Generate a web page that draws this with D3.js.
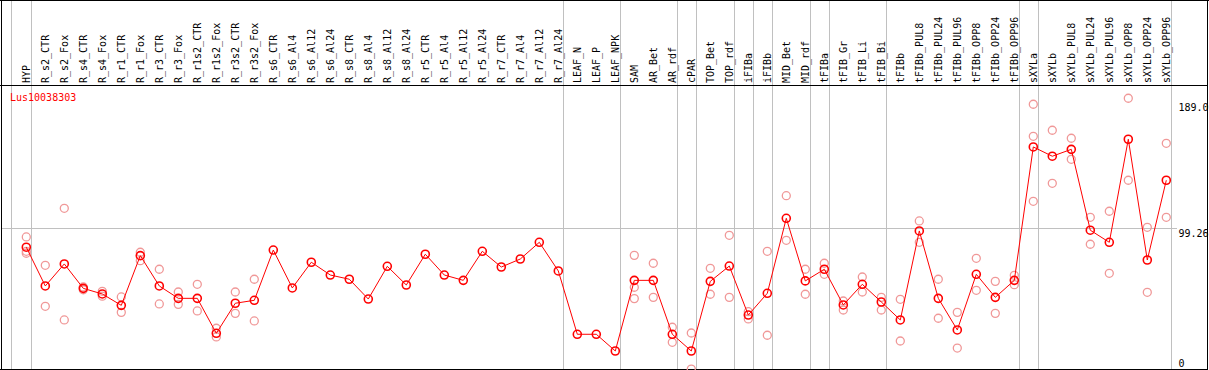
<!DOCTYPE html>
<html>
<head>
<meta charset="utf-8">
<script src="https://cdn.jsdelivr.net/npm/d3@7"></script>
<style>
  body { margin: 0; background: #fff; }
  svg { display: block; }
  text { font-family: "DejaVu Sans Mono", monospace; font-size: 10px; }
</style>
</head>
<body>
<div id="the_chart"></div>
<script>
var geneName = "Lus10038303";

var categories = ["HYP", "R_s2_CTR", "R_s2_Fox", "R_s4_CTR", "R_s4_Fox", "R_r1_CTR", "R_r1_Fox",
  "R_r3_CTR", "R_r3_Fox", "R_r1s2_CTR", "R_r1s2_Fox", "R_r3s2_CTR", "R_r3s2_Fox", "R_s6_CTR",
  "R_s6_Al4", "R_s6_Al12", "R_s6_Al24", "R_s8_CTR", "R_s8_Al4", "R_s8_Al12", "R_s8_Al24",
  "R_r5_CTR", "R_r5_Al4", "R_r5_Al12", "R_r5_Al24", "R_r7_CTR", "R_r7_Al4", "R_r7_Al12", "R_r7_Al24",
  "LEAF_N", "LEAF_P", "LEAF_NPK", "SAM", "AR_Bet", "AR_rdf", "cPAR", "TOP_Bet", "TOP_rdf",
  "iFIBa", "iFIBb", "MID_Bet", "MID_rdf", "tFIBa", "tFIB_Gr", "tFIB_Li", "tFIB_Bi", "tFIBb",
  "tFIBb_PUL8", "tFIBb_PUL24", "tFIBb_PUL96", "tFIBb_OPP8", "tFIBb_OPP24", "tFIBb_OPP96",
  "sXYLa", "sXYLb", "sXYLb_PUL8", "sXYLb_PUL24", "sXYLb_PUL96", "sXYLb_OPP8", "sXYLb_OPP24", "sXYLb_OPP96"];

// mean expression per sample
var means = [85.8, 58.2, 73.9, 56.5, 52.5, 44.4, 79.8, 58.2, 49.4, 49.4, 24.5, 45.9, 48.0, 83.8,
  56.8, 75.1, 66.0, 63.0, 48.9, 72.2, 58.9, 80.8, 66.0, 62.2, 82.9, 71.7, 77.4, 89.3, 68.9,
  23.8, 23.8, 11.9, 62.2, 62.2, 23.8, 11.9, 61.5, 72.4, 37.5, 53.0, 106.4, 61.8, 70.1, 44.7,
  59.4, 46.8, 34.0, 97.4, 49.4, 26.9, 66.5, 50.1, 62.2, 157.2, 150.6, 155.5, 97.9, 89.3,
  162.7, 76.7, 133.5];

// individual replicates (empty where only one value)
var replicates = [[93.1, 82.9, 81.5], [72.9, 43.7], [113.5, 34.0], [57.5, 55.5], [54.4, 50.9],
  [50.4, 39.4], [82.2, 76.2], [70.1, 45.4], [53.9, 45.1], [59.4, 40.4], [28.1, 21.9],
  [53.9, 38.7], [63.0, 33.3], [], [], [], [], [], [], [], [], [], [], [], [], [], [], [], [],
  [], [], [], [80.0, 57.3, 49.2], [74.4, 50.1], [28.8, 18.1], [24.7, -1.0], [70.8, 52.3],
  [94.3, 50.1], [39.9, 34.7], [82.9, 23.1], [122.5, 90.7], [70.1, 52.3], [74.4, 66.5],
  [47.5, 41.1], [64.6, 53.9], [50.1, 41.1], [48.7, 19.0], [104.5, 89.3], [63.0, 35.2],
  [39.4, 14.0], [77.9, 55.1], [61.5, 38.7], [65.8, 59.1], [187.6, 164.8, 118.5],
  [169.1, 131.3], [163.4, 148.4], [107.1, 87.9], [111.4, 67.2], [191.9, 133.5],
  [100.0, 53.7], [159.8, 107.1]];

// a separator is drawn after each of these samples
var groupEnds = ["HYP", "R_r7_Al24", "LEAF_NPK", "AR_rdf", "cPAR", "TOP_rdf", "iFIBa", "iFIBb",
  "MID_rdf", "tFIBa", "tFIB_Bi", "tFIBb_OPP96", "sXYLa", "sXYLb_OPP96"];

var yTicks = [189.0, 99.26, 0];
var yTickLabels = ["189.0", "99.26", "0"];

var w = 1209, h = 370;
var grey = "#c0c0c0";

var svg = d3.select("#the_chart").append("svg")
  .attr("width", w).attr("height", h);

var xscale = d3.scalePoint()
  .domain(categories)
  .range([26.3, 1166.3]);

var yscale = d3.scaleLinear()
  .domain([0, 189])
  .range([367.7, 102.3]);

// grid
var grid = svg.append("g").attr("id", "grid");

grid.append("line")
  .attr("x1", 1).attr("x2", 1177)
  .attr("y1", Math.round(yscale(99.26)) + 0.5).attr("y2", Math.round(yscale(99.26)) + 0.5)
  .style("stroke", grey);

var sepX = [xscale(categories[0]) - 15.6].concat(groupEnds.map(function(c) { return xscale(c) + 4.4; }));
grid.selectAll("line.sep")
  .data(sepX)
  .enter().append("line")
  .attr("class", "sep")
  .attr("x1", function(d) { return Math.round(d) + 0.5; })
  .attr("x2", function(d) { return Math.round(d) + 0.5; })
  .attr("y1", 0).attr("y2", 369)
  .style("stroke", grey);

// frame
var frame = svg.append("g").attr("id", "frame").style("stroke", "#000").style("stroke-width", 1);
frame.append("line").attr("x1", 0).attr("x2", w).attr("y1", 0.5).attr("y2", 0.5);
frame.append("line").attr("x1", 0).attr("x2", 1208).attr("y1", 85.5).attr("y2", 85.5);
frame.append("line").attr("x1", 0).attr("x2", 1208).attr("y1", 369.5).attr("y2", 369.5);
frame.append("line").attr("x1", 1.5).attr("x2", 1.5).attr("y1", 0).attr("y2", 370);
frame.append("line").attr("x1", 1207.5).attr("x2", 1207.5).attr("y1", 0).attr("y2", 370);

// sample labels
svg.append("g").attr("id", "labels")
  .selectAll("text")
  .data(categories)
  .enter().append("text")
  .attr("transform", function(d) { return "translate(" + (xscale(d) + 3.5) + ",83) rotate(-90)"; })
  .style("fill", "#000")
  .text(function(d) { return d; });

// y tick labels
svg.append("g").attr("id", "yaxis")
  .selectAll("text")
  .data(yTicks)
  .enter().append("text")
  .attr("x", 1178.5)
  .attr("y", function(d, i) { return Math.min(yscale(d) + 8.3, 366.6); })
  .style("fill", "#000")
  .text(function(d, i) { return yTickLabels[i]; });

svg.append("text")
  .attr("x", 10).attr("y", 100.5)
  .style("fill", "#ff0000")
  .text(geneName);

// replicate points
var reps = [];
replicates.forEach(function(r, i) {
  r.forEach(function(v) { reps.push({ category: categories[i], value: v }); });
});

svg.append("g").attr("id", "reps")
  .selectAll("circle")
  .data(reps)
  .enter().append("circle")
  .attr("cx", function(d) { return xscale(d.category); })
  .attr("cy", function(d) { return yscale(d.value); })
  .attr("r", 4)
  .style("fill", "none")
  .style("stroke", "#f09898")
  .style("stroke-width", 1.3);

// mean line
var line = d3.line()
  .x(function(d, i) { return xscale(categories[i]); })
  .y(function(d) { return yscale(d); });

svg.append("path")
  .datum(means)
  .attr("d", line)
  .style("fill", "none")
  .style("stroke", "#ff0000")
  .style("stroke-width", 1);

svg.append("g").attr("id", "means")
  .selectAll("circle")
  .data(means)
  .enter().append("circle")
  .attr("cx", function(d, i) { return xscale(categories[i]); })
  .attr("cy", function(d) { return yscale(d); })
  .attr("r", 4)
  .style("fill", "none")
  .style("stroke", "#ff0000")
  .style("stroke-width", 1.6);
</script>
</body>
</html>
